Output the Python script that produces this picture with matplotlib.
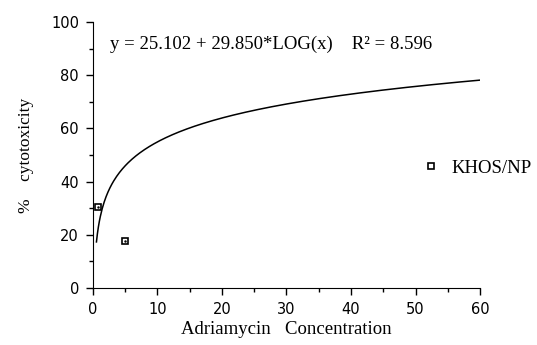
import numpy as np
import matplotlib.pyplot as plt

intercept = 25.102
slope = 29.850
r2_text = "8.596"
conc = [0.8, 5.0]
cyto = [30.3, 17.7]
x_ticks = [0, 10, 20, 30, 40, 50, 60]
y_ticks = [0, 20, 40, 60, 80, 100]

fig = plt.figure(figsize=(5.37, 3.45), dpi=100)
ax = fig.add_axes([0.173, 0.165, 0.721, 0.771])

xs = np.linspace(0.55, 60, 400)
ax.plot(xs, intercept + slope * np.log10(xs), color='black', lw=1.1)
ax.plot(conc, cyto, ls='none', marker='s', ms=5, mfc='white', mec='black',
        mew=1.2, label='KHOS/NP')
ax.plot(conc, cyto, ls='none', marker='.', ms=1.5, color='black')

ax.set_xlim(0, 60)
ax.set_ylim(0, 100)
ax.set_xticks(x_ticks)
ax.set_yticks(y_ticks)
ax.set_xticks(np.arange(5, 60, 10), minor=True)
ax.set_yticks(np.arange(10, 100, 20), minor=True)
ax.spines['top'].set_visible(False)
ax.spines['right'].set_visible(False)
ax.tick_params(direction='out', length=5, width=1, labelsize=10.5, pad=5)
ax.tick_params(which='minor', direction='out', length=3, width=1)

ax.text(0.045, 0.915, "y = 25.102 + 29.850*LOG(x)    R² = " + r2_text,
        transform=ax.transAxes, family='Liberation Serif', fontsize=13.5,
        va='center')

ax.set_xlabel("Adriamycin   Concentration", family='Liberation Serif',
              fontsize=13.5, labelpad=3)
ax.set_ylabel("%    cytotoxicity", family='Liberation Serif', fontsize=12.5,
              labelpad=12)

ax.legend(loc='center left', bbox_to_anchor=(0.81, 0.45), frameon=False,
          handletextpad=0.7, handlelength=0.8,
          prop={'family': 'Liberation Serif', 'size': 13.5})

fig.savefig('out.png', dpi=100)
